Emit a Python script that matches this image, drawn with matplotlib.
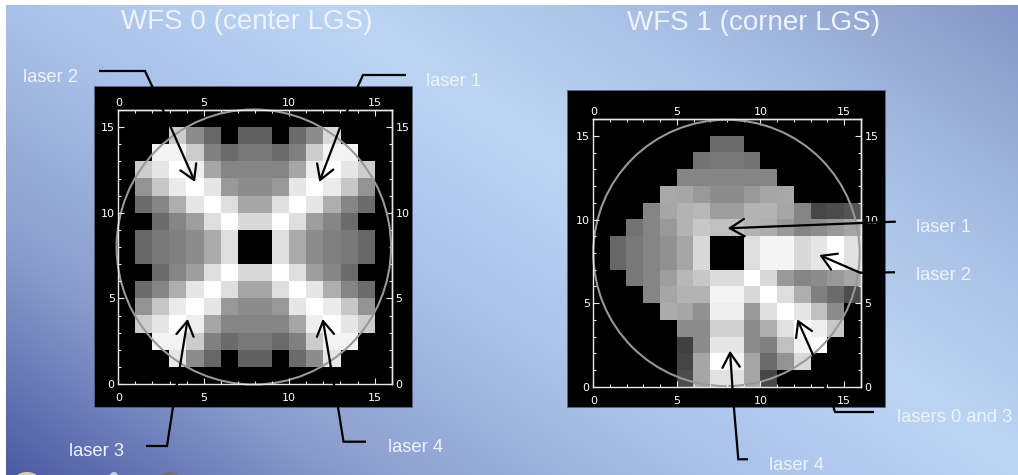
import matplotlib
matplotlib.use("Agg")
import matplotlib.pyplot as plt
import numpy as np
from matplotlib.patches import Circle, Ellipse, Rectangle

W, H = 1018, 475

plt.rcParams['font.family'] = ['Liberation Sans', 'DejaVu Sans']

# grey level per subaperture, rows listed from y=15 down to y=0
wfs0 = [
    [0,0,0,0,0,0,0,0,0,0,0,0,0,0,0,0],
    [0,0,0,.80,.55,.40,0,.38,.38,0,.42,.55,.85,0,0,0],
    [0,0,.95,.95,.80,.50,.42,.47,.47,.42,.50,.80,.95,.95,0,0],
    [0,.80,.90,1,.93,.65,.52,.52,.52,.52,.65,.93,1,.90,.80,0],
    [0,.58,.78,.92,1,.90,.60,.55,.55,.60,.90,1,.92,.78,.58,0],
    [0,.42,.52,.68,.90,1,.87,.65,.65,.87,1,.90,.68,.52,.42,0],
    [0,0,.42,.52,.62,.87,1,.85,.85,1,.87,.62,.52,.42,0,0],
    [0,.40,.47,.50,.55,.67,.87,0,0,.87,.67,.55,.50,.47,.40,0],
    [0,.40,.47,.50,.55,.67,.87,0,0,.87,.67,.55,.50,.47,.40,0],
    [0,0,.42,.52,.62,.87,1,.85,.85,1,.87,.62,.52,.42,0,0],
    [0,.42,.52,.68,.90,1,.87,.65,.65,.87,1,.90,.68,.52,.42,0],
    [0,.58,.78,.92,1,.90,.60,.55,.55,.60,.90,1,.92,.78,.58,0],
    [0,.80,.90,1,.93,.65,.52,.52,.52,.52,.65,.93,1,.90,.80,0],
    [0,0,.95,.95,.80,.50,.42,.47,.47,.42,.50,.80,.95,.95,0,0],
    [0,0,0,.90,.55,.40,0,.38,.38,0,.42,.55,.90,0,0,0],
    [0,0,0,0,0,0,0,0,0,0,0,0,0,0,0,0],
]
wfs1 = [
    [0,0,0,0,0,0,0,0,0,0,0,0,0,0,0,0],
    [0,0,0,0,0,0,0,.42,.42,0,0,0,0,0,0,0],
    [0,0,0,0,0,0,.45,.47,.47,.45,0,0,0,0,0,0],
    [0,0,0,0,0,.52,.52,.52,.52,.52,.52,0,0,0,0,0],
    [0,0,0,0,.66,.65,.60,.55,.55,.60,.65,.66,0,0,0,0],
    [0,0,0,.52,.65,.70,.72,.62,.62,.70,.70,.65,.52,.28,.30,.33],
    [0,0,.45,.52,.60,.70,.78,.75,.75,.70,.68,.60,.52,.55,.60,.65],
    [0,.40,.47,.52,.57,.65,.85,0,0,.87,.96,.96,.85,.90,1,.88],
    [0,.40,.47,.52,.57,.65,.85,0,0,.87,.96,.96,.85,.90,1,.88],
    [0,0,.47,.52,.62,.72,.78,.86,.86,1,.85,.60,.52,.55,.60,.65],
    [0,0,0,.52,.65,.70,.70,.95,.95,.85,1,.87,.68,.50,.42,.30],
    [0,0,0,0,.67,.65,.57,.93,.93,.60,.87,1,.90,.75,.55,0],
    [0,0,0,0,0,.55,.55,.82,.82,.55,.68,.88,1,.93,.78,0],
    [0,0,0,0,0,.25,.55,.90,.90,.55,.50,.75,.95,1,0,0],
    [0,0,0,0,0,.27,.65,1,.95,.65,.42,.58,.85,0,0,0],
    [0,0,0,0,0,.30,.65,.88,.88,.65,.28,0,0,0,0,0],
]
ticks = [0, 5, 10, 15]
titles = ["WFS 0 (center LGS)", "WFS 1 (corner LGS)"]

# slide background colours along the diagonal
bg_pos = [0, .2, .4, .6, .8, 1]
bg_cols = ["#4c59a3", "#8a9ccc", "#a8c0e8", "#bdd5f4", "#a6bce2", "#8496c6"]


def px_axes(x0, y0, x1, y1, **kw):
    # axes from pixel box, y counted from the top of the image
    return fig.add_axes([x0 / W, 1 - y1 / H, (x1 - x0) / W, (y1 - y0) / H], **kw)


def style_ticks(axis, pad):
    axis.set_tick_params(which="major", direction="in", length=4, width=0.8, color="#e8e8e8",
                         labelcolor="white", labelsize=8, pad=pad)
    axis.set_tick_params(which="minor", direction="in", length=2, width=0.8, color="#e8e8e8")


def draw_wfs(box, frame, data, circ):
    fig.add_artist(Rectangle((frame[0] / W, 1 - frame[3] / H), (frame[2] - frame[0]) / W,
                             (frame[3] - frame[1]) / H, transform=fig.transFigure,
                             fc="black", ec="#5a6a90", lw=0.5, zorder=1))
    ax = px_axes(*box, facecolor="black", zorder=2)
    ax.imshow(data, cmap="gray", vmin=0, vmax=1, extent=[0, 16, 0, 16],
              origin="upper", interpolation="nearest", aspect="auto")
    ax.add_patch(Circle(circ[:2], circ[2], fc="none", ec="#989898", lw=1.5, clip_on=False))
    ax.set_xlim(0, 16)
    ax.set_ylim(0, 16)

    sec_x = ax.secondary_xaxis("top")
    sec_y = ax.secondary_yaxis("right")
    for a in (ax.xaxis, ax.yaxis, sec_x.xaxis, sec_y.yaxis):
        a.set_ticks(ticks)
        a.set_ticks(range(17), minor=True)
    style_ticks(ax.xaxis, 6.4)
    style_ticks(ax.yaxis, 2.6)
    style_ticks(sec_x.xaxis, 1.4)
    style_ticks(sec_y.yaxis, 2.8)
    for a in (ax.xaxis, ax.yaxis, sec_x.xaxis, sec_y.yaxis):
        for lab in a.get_ticklabels():
            lab.set_family("DejaVu Sans")
    for s in list(ax.spines.values()) + list(sec_x.spines.values()) + list(sec_y.spines.values()):
        s.set_color("#e8e8e8")
        s.set_linewidth(1)
    return ax


def pointer(points):
    # black leader, last segment carries the open arrow head
    pts = np.array(points)
    top.plot(pts[:-1, 0], pts[:-1, 1], color="black", lw=1.6, solid_capstyle="butt",
             solid_joinstyle="miter")
    top.annotate("", xy=pts[-1], xytext=pts[-2],
                 arrowprops=dict(arrowstyle="->,head_length=0.4,head_width=0.24", color="black",
                                 lw=1.6, mutation_scale=26, shrinkA=0, shrinkB=0))


fig = plt.figure(figsize=(W / 100, H / 100), dpi=100, facecolor="white")

bg = px_axes(0, 0, W, H, zorder=0)
yy, xx = np.mgrid[0:H, 0:W]
t = np.clip((0.55 * xx - 0.83 * yy + 391) / 947, 0, 1)
rgb = np.array([matplotlib.colors.to_rgb(c) for c in bg_cols])
img = np.dstack([np.interp(t, bg_pos, rgb[:, i]) for i in range(3)])
img[:, :6] = 1
img[:5, :] = 1
bg.imshow(img, extent=[0, W, H, 0], aspect="auto", interpolation="nearest")
bg.axis("off")

draw_wfs((118.3, 110, 391.7, 384), (94, 86, 412, 407), wfs0, (7.93, 8, 8.03))
draw_wfs((593.3, 119.3, 860.7, 386.7), (567, 90, 885, 407), wfs1, (7.97, 8, 7.97))

top = px_axes(0, 0, W, H, zorder=5)
top.set_xlim(0, W)
top.set_ylim(H, 0)
top.axis("off")
top.patch.set_alpha(0)

pointer([(99, 71), (145, 71), (152, 86), (171, 127.7), (195, 182)])
pointer([(406, 75), (363, 75), (358, 86), (340, 127.7), (319.3, 182)])
pointer([(146, 446), (167, 446), (173, 407), (180, 366), (187.7, 319)])
pointer([(366, 441.7), (343.5, 441.7), (338, 407), (330.7, 366), (322.7, 319)])
pointer([(895, 221.7), (727.7, 228.3)])
pointer([(895, 272.3), (860, 272.7), (819.3, 255)])
pointer([(748, 459.3), (738.3, 459.3), (733.3, 400), (730, 350.7)])
pointer([(874, 412), (835, 412), (833.3, 406.7), (825, 386.7), (812.3, 353.3), (797.3, 319.3)])

for s, x, y in zip(titles, (246.5, 753.5), (22, 23)):
    top.text(x, y, s, color="#eef3fb", fontsize=20, ha="center", va="center")
labels = [("laser 2", 50.5, 78), ("laser 1", 454, 81), ("laser 3", 96.5, 451),
          ("laser 4", 415.5, 447.5), ("laser 1", 944, 227), ("laser 2", 943.5, 276),
          ("lasers 0 and 3", 954.5, 417.5), ("laser 4", 796.5, 465)]
for s, x, y in labels:
    top.text(x, y, s, color="#eef3fb", fontsize=13.2, ha="center", va="center")

# things poking in at the bottom edge
top.add_patch(Ellipse((27, 486), 32, 28, fc="#d8cfa8", ec="none"))
top.add_patch(Ellipse((114, 476), 8, 8, fc="#c8d4e8", ec="none"))
top.add_patch(Ellipse((170, 486), 26, 28, fc="#707070", ec="none"))

fig.savefig("out.png", dpi=100, facecolor="white")
